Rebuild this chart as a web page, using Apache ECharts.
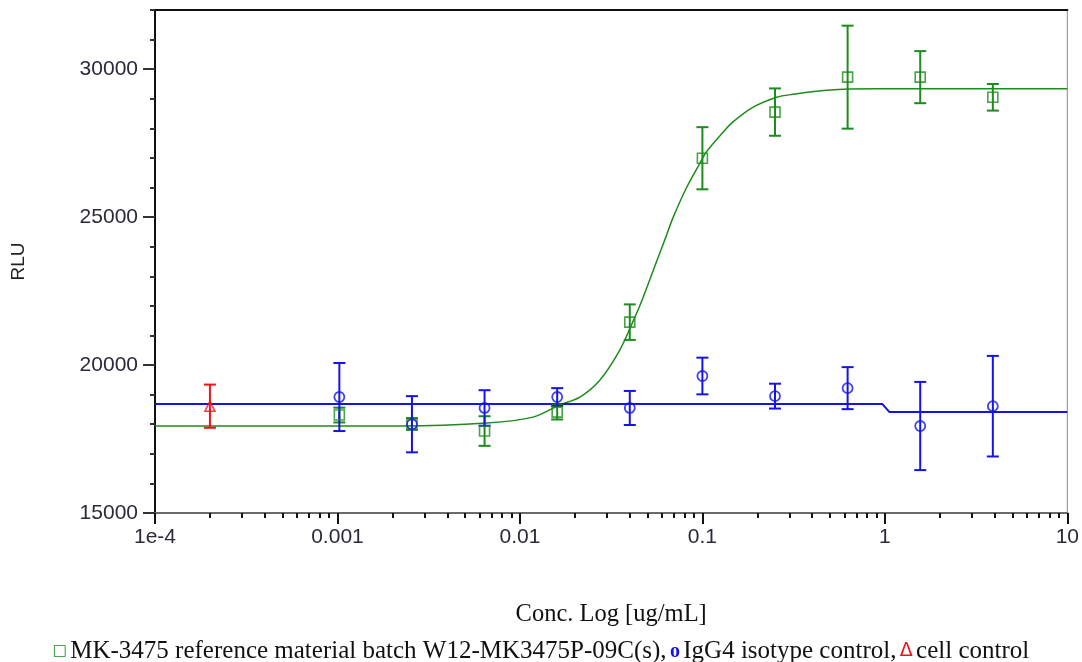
<!DOCTYPE html>
<html><head><meta charset="utf-8">
<script src="https://cdn.jsdelivr.net/npm/echarts@6/dist/echarts.min.js"></script>
<style>html,body{margin:0;padding:0;background:#fff}#c{width:1082px;height:662px}</style>
</head><body><div id="c"></div>
<script>
// ---- data ----
const concentrations = [0.001024, 0.00256, 0.0064, 0.016, 0.04, 0.1, 0.25, 0.625, 1.5625, 3.90625];
const refMean = [18310, 18010, 17770, 18410, 21450, 26990, 28550, 29730, 29730, 29050];
const refErr  = [250, 200, 500, 250, 600, 1050, 800, 1740, 880, 450];
const isoMean = [18920, 18000, 18550, 18920, 18550, 19630, 18950, 19220, 17940, 18610];
const isoErr  = [1150, 950, 600, 300, 575, 620, 420, 710, 1490, 1700];
const cellConc = [0.0002];
const cellMean = [18610];
const cellErr  = [730];
// fitted curves
const refFitX = [0.0001, 0.0022, 0.0066, 0.0118, 0.0165, 0.0213, 0.0274, 0.0352, 0.0415, 0.0471, 0.0561, 0.0637, 0.0687, 0.0819, 0.0965, 0.105, 0.129, 0.146, 0.188, 0.255, 0.312, 0.479, 0.9, 10];
const refFitY = [17940, 17940, 18040, 18240, 18650, 18920, 19490, 20500, 21450, 22250, 23500, 24400, 24950, 26000, 26800, 27200, 27850, 28200, 28700, 29050, 29150, 29290, 29340, 29340];
const isoFitX = [0.0001, 0.97, 1.06, 10];
const isoFitY = [18680, 18680, 18410, 18410];
const xTickValues = [0.0001, 0.001, 0.01, 0.1, 1, 10];
const xTickLabels = ['1e-4', '0.001', '0.01', '0.1', '1', '10'];
const yTickValues = [15000, 20000, 25000, 30000];
const seriesNames = ['MK-3475 reference material batch W12-MK3475P-09C(s)', 'IgG4 isotype control', 'cell control'];
const xAxisTitle = 'Conc. Log [ug/mL]';
const yAxisTitle = 'RLU';

// ---- styling ----
const GREEN = '#1c8c1c', BLUE = '#1414e6', RED = '#f01414';
const X_MIN = 0.0001, X_MAX = 10, Y_MIN = 15000, Y_MAX = 32000;

const minorX = [];
for (let d = -4; d < 1; d++) for (let k = 2; k <= 9; k++) minorX.push(+(k * Math.pow(10, d)).toPrecision(3));

function zip(a, b) { return a.map((v, i) => [v, b[i]]); }
function errData(x, m, e) { return x.map((v, i) => [v, m[i] - e[i], m[i] + e[i]]); }
function errSeries(name, data, color) {
  return {
    type: 'custom', name: name, data: data, z: 4,
    encode: { x: 0, y: [1, 2] },
    renderItem: function (params, api) {
      const x = api.value(0);
      const lo = api.coord([x, api.value(1)]);
      const hi = api.coord([x, api.value(2)]);
      const w = 6;
      const st = { stroke: color, lineWidth: 2 };
      return { type: 'group', children: [
        { type: 'line', shape: { x1: lo[0], y1: lo[1], x2: hi[0], y2: hi[1] }, style: st },
        { type: 'line', shape: { x1: lo[0] - w, y1: lo[1], x2: lo[0] + w, y2: lo[1] }, style: st },
        { type: 'line', shape: { x1: hi[0] - w, y1: hi[1], x2: hi[0] + w, y2: hi[1] }, style: st }
      ]};
    }
  };
}

const chart = echarts.init(document.getElementById('c'), null, { renderer: 'canvas' });
const axisFont = { fontFamily: 'Liberation Sans, Arial, sans-serif', fontSize: 21, color: '#2a2a3a' };
chart.setOption({
  animation: false,
  backgroundColor: '#fff',
  grid: { left: 155, right: 14, top: 10, bottom: 149, show: true, borderColor: '#888', borderWidth: 1 },
  xAxis: [
    { type: 'log', logBase: 10, min: X_MIN, max: X_MAX, position: 'bottom',
      name: xAxisTitle, nameLocation: 'middle', nameGap: 89,
      nameTextStyle: { fontFamily: 'Liberation Serif, Times New Roman, serif', fontSize: 24.5, color: '#111' },
      axisLine: { show: true, onZero: false, lineStyle: { color: '#6a6a6a', width: 2 } },
      axisTick: { show: true, inside: false, length: 11, customValues: xTickValues, lineStyle: { color: '#111', width: 2 } },
      axisLabel: Object.assign({ margin: 14, customValues: xTickValues,
        formatter: v => xTickLabels[Math.round(Math.log10(v)) + 4] }, axisFont),
      splitLine: { show: false }, minorTick: { show: false } },
    { type: 'log', logBase: 10, min: X_MIN, max: X_MAX, position: 'bottom',
      axisLine: { show: false },
      axisTick: { show: true, length: 5, customValues: minorX, lineStyle: { color: '#111', width: 2 } },
      axisLabel: { show: false }, splitLine: { show: false } },
    { type: 'log', logBase: 10, min: X_MIN, max: X_MAX, position: 'top',
      axisLine: { show: true, lineStyle: { color: '#111', width: 2 } },
      axisTick: { show: false }, axisLabel: { show: false }, splitLine: { show: false } }
  ],
  yAxis: [
    { type: 'value', min: Y_MIN, max: Y_MAX, position: 'left',
      name: yAxisTitle, nameLocation: 'middle', nameGap: 127, nameRotate: 90,
      nameTextStyle: { fontFamily: 'Liberation Sans, Arial, sans-serif', fontSize: 19, color: '#222' },
      axisLine: { show: true, onZero: false, lineStyle: { color: '#111', width: 2 } },
      axisTick: { show: true, length: 12, customValues: yTickValues, lineStyle: { color: '#333', width: 2 } },
      axisLabel: Object.assign({ margin: 17, customValues: yTickValues, formatter: v => String(v) }, axisFont),
      splitLine: { show: false } },
    { type: 'value', min: Y_MIN, max: Y_MAX, interval: 1000, position: 'left', offset: 0,
      axisLine: { show: false },
      axisTick: { show: true, length: 5, lineStyle: { color: '#333', width: 2 } },
      axisLabel: { show: false }, splitLine: { show: false } }
  ],
  graphic: [{
    type: 'text', left: 'center', top: 639,
    style: {
      text: '{g|□} {t|' + seriesNames[0] + ',} {b|o} {t|' + seriesNames[1] + ',} {r|Δ} {t|' + seriesNames[2] + '}',
      rich: {
        t: { fontFamily: 'Liberation Serif, Times New Roman, serif', fontSize: 25, fill: '#111' },
        g: { fontFamily: 'DejaVu Sans, sans-serif', fontSize: 15, fill: GREEN, fontWeight: 'bold' },
        b: { fontFamily: 'Liberation Serif, serif', fontSize: 20, fill: BLUE, fontWeight: 'bold' },
        r: { fontFamily: 'DejaVu Sans, sans-serif', fontSize: 19, fill: RED }
      }
    }
  }],
  series: [
    { type: 'line', name: seriesNames[0] + ' fit', data: zip(refFitX, refFitY), smooth: 0.3,
      showSymbol: false, z: 2, lineStyle: { color: GREEN, width: 1.5 }, silent: true },
    { type: 'line', name: seriesNames[1] + ' fit', data: zip(isoFitX, isoFitY), smooth: false,
      showSymbol: false, z: 2, lineStyle: { color: BLUE, width: 2 }, silent: true },
    errSeries(seriesNames[0] + ' err', errData(concentrations, refMean, refErr), GREEN),
    errSeries(seriesNames[1] + ' err', errData(concentrations, isoMean, isoErr), BLUE),
    errSeries(seriesNames[2] + ' err', errData(cellConc, cellMean, cellErr), RED),
    { type: 'scatter', name: seriesNames[0], data: zip(concentrations, refMean), symbol: 'rect', symbolSize: 10, z: 5,
      itemStyle: { color: 'rgba(0,0,0,0)', borderColor: GREEN, borderWidth: 1.6 } },
    { type: 'scatter', name: seriesNames[1], data: zip(concentrations, isoMean), symbol: 'circle', symbolSize: 10, z: 5,
      itemStyle: { color: 'rgba(0,0,0,0)', borderColor: BLUE, borderWidth: 1.8 } },
    { type: 'scatter', name: seriesNames[2], data: zip(cellConc, cellMean), symbol: 'triangle', symbolSize: 10, z: 5,
      itemStyle: { color: 'rgba(0,0,0,0)', borderColor: RED, borderWidth: 1.6 } }
  ]
});
</script></body></html>
